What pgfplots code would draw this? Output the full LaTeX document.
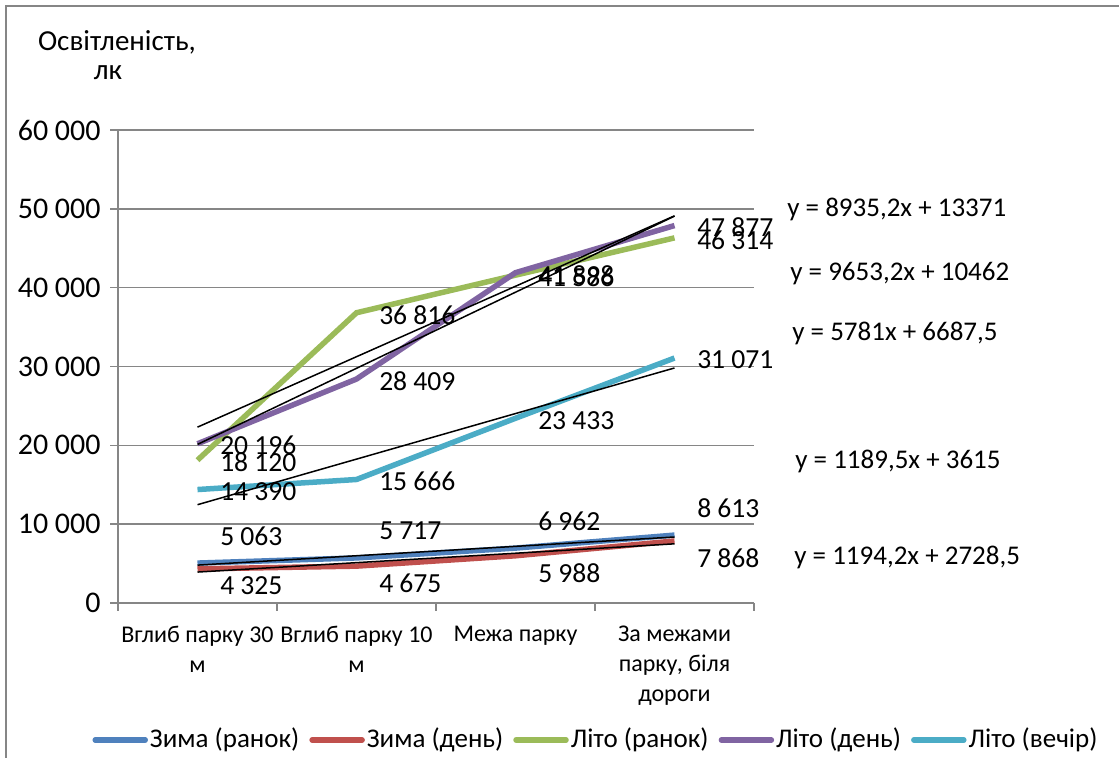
\documentclass[border=0pt]{standalone}
\usepackage{fontspec}
\setmainfont{Carlito}
\usepackage{pgfplots}
\pgfplotsset{compat=1.18}
\definecolor{cBlue}{HTML}{4F81BD}
\definecolor{cRed}{HTML}{C0504D}
\definecolor{cGreen}{HTML}{9BBB59}
\definecolor{cPurple}{HTML}{8064A2}
\definecolor{cCyan}{HTML}{4BACC6}
\definecolor{cGrid}{HTML}{868686}
\begin{document}
\fontsize{13.5}{16}\selectfont
\begin{tikzpicture}
\useasboundingbox (0,0) rectangle (559.5pt,379pt);
\begin{axis}[
  at={(59pt,77.5pt)}, anchor=south west,
  scale only axis, width=318pt, height=236.5pt,
  xmin=0.5, xmax=4.5, ymin=0, ymax=60000,
  axis lines*=left,
  axis line style={cGrid, line width=0.8pt},
  ymajorgrids, grid style={cGrid, line width=0.8pt},
  ytick={0,10000,...,60000},
  scaled y ticks=false,
  xtick={1,2,3,4},
  xticklabels={{Вглиб парку 30\\м},{Вглиб парку 10\\м},{Межа парку},{За межами\\парку, біля\\дороги}},
  xticklabel style={align=center, font=\fontsize{12}{15}\selectfont, yshift=-3pt},
  yticklabel style={font=\fontsize{15}{18}\selectfont},
  minor xtick={0.5,1.5,2.5,3.5,4.5},
  tick align=outside,
  major tick length=4pt, minor tick length=4pt,
  major x tick style={draw=none},
  minor x tick style={cGrid, line width=0.8pt},
  major y tick style={cGrid, line width=0.8pt},
  /pgf/number format/.cd, 1000 sep={\ }, assume math mode=true,
  /pgfplots/.cd,
  point meta=y,
  nodes near coords,
  nodes near coords style={font=\fontsize{13.8}{16}\selectfont, text=black, inner sep=0pt, anchor=west, xshift=10pt},
  legend columns=5,
  legend style={at={(0.7516,-0.2896)}, anchor=center, draw=none, fill=none,
    font=\fontsize{13.5}{16}\selectfont,
    /tikz/every even column/.append style={column sep=4pt},
    nodes={inner sep=1pt}},
  legend image code/.code={\draw[#1, line width=2.75pt, line cap=round] (2pt,0pt) -- (27pt,0pt);},
  clip=false,
]
\addplot[cBlue, line width=2.75pt, every node near coord/.append style={yshift=13.5pt}] coordinates {(1,5063) (2,5717) (3,6962) (4,8613)};
\addlegendentry{Зима (ранок)}
\addplot[cRed, line width=2.75pt, every node near coord/.append style={yshift=-8.5pt}] coordinates {(1,4325) (2,4675) (3,5988) (4,7868)};
\addlegendentry{Зима (день)}
\addplot[cGreen, line width=2.75pt, every node near coord/.append style={yshift=-1pt}] coordinates {(1,18120) (2,36816) (3,41586) (4,46314)};
\addlegendentry{Літо (ранок)}
\addplot[cPurple, line width=2.75pt, every node near coord/.append style={yshift=-1pt}] coordinates {(1,20196) (2,28409) (3,41898) (4,47877)};
\addlegendentry{Літо (день)}
\addplot[cCyan, line width=2.75pt, every node near coord/.append style={yshift=-1pt}] coordinates {(1,14390) (2,15666) (3,23433) (4,31071)};
\addlegendentry{Літо (вечір)}
% trend lines
\addplot[black, line width=0.75pt, forget plot, nodes near coords=] coordinates {(1,4804.5) (4,8373)};
\addplot[black, line width=0.75pt, forget plot, nodes near coords=] coordinates {(1,3922.7) (4,7505.3)};
\addplot[black, line width=0.75pt, forget plot, nodes near coords=] coordinates {(1,22306.2) (4,49111.8)};
\addplot[black, line width=0.75pt, forget plot, nodes near coords=] coordinates {(1,20115.2) (4,49074.8)};
\addplot[black, line width=0.75pt, forget plot, nodes near coords=] coordinates {(1,12468.5) (4,29811.5)};
\end{axis}
\draw[cGrid, line width=1.2pt] (3pt,0pt) -- (3pt,376pt) -- (559.5pt,376pt);
\node[inner sep=0pt, font=\fontsize{14.5}{17}\selectfont] at (58.5pt,358pt) {Освітленість,};
\node[inner sep=0pt, font=\fontsize{14.5}{17}\selectfont] at (54pt,342.5pt) {лк};
\begin{scope}[every node/.style={inner sep=0pt, anchor=west}]
\node at (393.5pt,274.5pt) {y = 8935,2x + 13371};
\node at (395pt,242pt) {y = 9653,2x + 10462};
\node at (396pt,212.5pt) {y = 5781x + 6687,5};
\node at (397.5pt,148.5pt) {y = 1189,5x + 3615};
\node at (397pt,100.5pt) {y = 1194,2x + 2728,5};
\end{scope}
\end{tikzpicture}
\end{document}
